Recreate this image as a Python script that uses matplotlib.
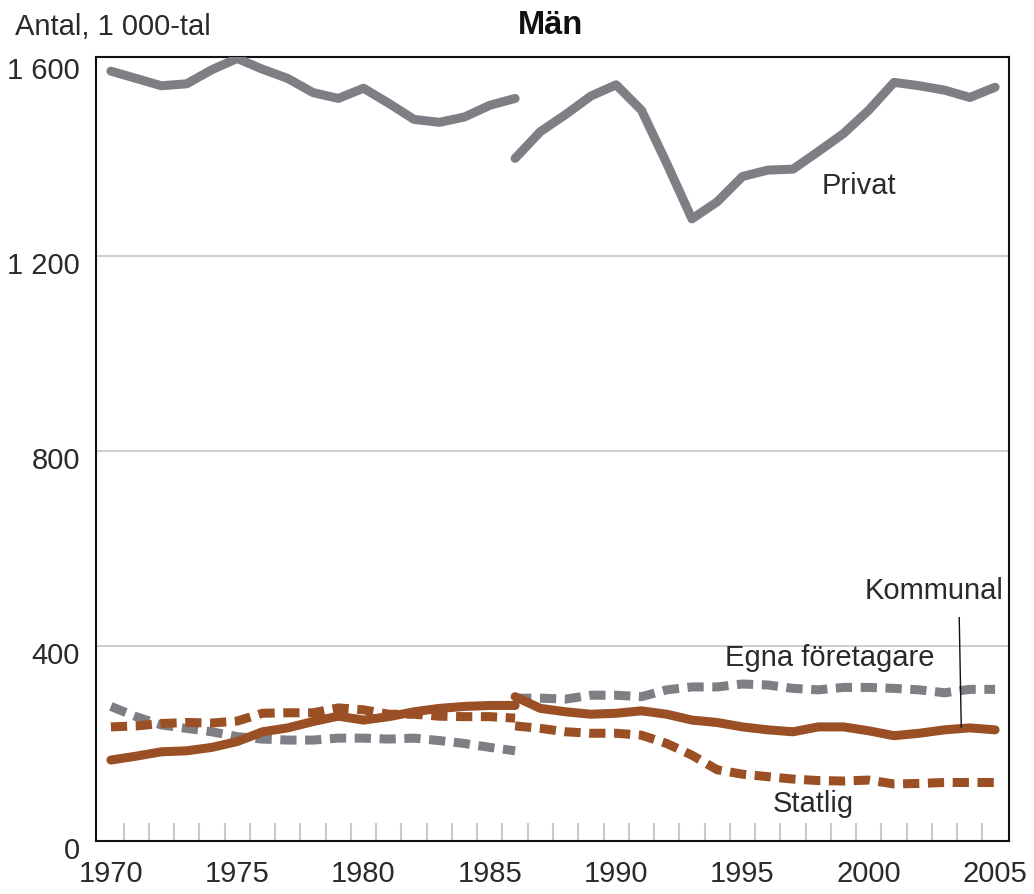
import matplotlib
matplotlib.use("Agg")
import matplotlib.pyplot as plt
import matplotlib.transforms as mtransforms
import numpy as np

plt.rcParams['font.family'] = ['Liberation Sans', 'DejaVu Sans']

years_a = list(range(1970, 1987))
years_b = list(range(1986, 2006))

privat_a = [1579, 1564, 1549, 1553, 1582, 1605, 1583, 1564, 1535, 1523, 1544,
            1513, 1480, 1474, 1485, 1509, 1523]
privat_b = [1400, 1455, 1490, 1528, 1551, 1499, 1390, 1276, 1311, 1363, 1376,
            1378, 1414, 1451, 1499, 1556, 1549, 1540, 1525, 1546]

egna_a = [276, 255, 238, 231, 224, 214, 209, 207, 207, 211, 211, 209, 211, 206,
          200, 192, 185]
egna_b = [293, 293, 291, 299, 299, 296, 310, 316, 316, 322, 320, 313, 310, 315,
          315, 313, 310, 304, 311, 311]

kommunal_a = [166, 174, 183, 185, 192, 204, 224, 232, 245, 256, 248, 255, 265,
              272, 276, 278, 278]
kommunal_b = [296, 272, 265, 260, 262, 267, 260, 248, 243, 234, 228, 224, 234,
              234, 226, 216, 221, 228, 232, 228]

statlig_a = [234, 236, 241, 243, 242, 246, 262, 263, 263, 273, 269, 260, 260,
             256, 255, 255, 252]
statlig_b = [236, 231, 224, 221, 221, 217, 200, 176, 146, 137, 132, 127, 124,
             123, 125, 117, 118, 120, 120, 120]

year_ticks = [1970, 1975, 1980, 1985, 1990, 1995, 2000, 2005]
y_ticks = [0, 400, 800, 1200, 1600]
y_ticklabels = ['0', '400', '800', '1 200', '1 600']

GRAY = '#7e7f84'
BROWN = '#9a4f24'
TXT = '#2a2a2a'
FS = 21

fig = plt.figure(figsize=(10.34, 8.95), dpi=100)
ax = fig.add_axes([96/1034, 1 - 842/895, (1009-96)/1034, (842-58)/895])

lw = 6.5
dash = (1.8, 0.95)
ax.plot(years_a, privat_a, color=GRAY, lw=lw, solid_capstyle='round', solid_joinstyle='round', zorder=3)
ax.plot(years_b, privat_b, color=GRAY, lw=lw, solid_capstyle='round', solid_joinstyle='round', zorder=3)
for ys, xs in ((egna_a, years_a), (egna_b, years_b)):
    ax.plot(xs, ys, color=GRAY, lw=lw, linestyle=(0, dash), dash_capstyle='butt', zorder=3)
for ys, xs in ((statlig_a, years_a), (statlig_b, years_b)):
    ax.plot(xs, ys, color=BROWN, lw=lw, linestyle=(0, dash), dash_capstyle='butt', zorder=4)
ax.plot(years_a, kommunal_a, color=BROWN, lw=lw, solid_capstyle='round', solid_joinstyle='round', zorder=5)
ax.plot(years_b, kommunal_b, color=BROWN, lw=lw, solid_capstyle='round', solid_joinstyle='round', zorder=5)

ax.set_xlim(1969.41, 2005.55)
ax.set_ylim(0, 1608)

for v in y_ticks[1:4]:
    ax.axhline(v, color='#c9c9c9', lw=1.3, zorder=1)

ax.set_yticks(y_ticks)
ax.set_yticklabels(y_ticklabels)
ax.set_xticks(year_ticks)
ax.set_xticklabels([str(y) for y in year_ticks])
ax.set_xticks(np.arange(1970.5, 2005, 1.0), minor=True)
ax.tick_params(axis='y', length=0, pad=11.5, labelsize=FS, labelcolor=TXT)
ax.tick_params(axis='x', which='major', length=0, pad=13, labelsize=FS, labelcolor=TXT)
ax.tick_params(axis='x', which='minor', direction='in', length=13, width=1.5, color='#c9c9c9')

off = mtransforms.ScaledTranslation(0, -6/100, fig.dpi_scale_trans)
for lab in ax.get_yticklabels():
    lab.set_transform(lab.get_transform() + off)

for s in ax.spines.values():
    s.set_color('#111111')
    s.set_linewidth(1.5)

ax.text(1998.15, 1346, 'Privat', fontsize=FS, color=TXT, va='center', ha='left')
ax.text(1994.3, 378, 'Egna företagare', fontsize=FS, color=TXT, va='center', ha='left')
ax.text(2005.35, 515, 'Kommunal', fontsize=FS, color=TXT, va='center', ha='right')
ax.text(1996.2, 78, 'Statlig', fontsize=FS, color=TXT, va='center', ha='left')
ax.plot([2003.58, 2003.66], [458, 234], color='#111111', lw=1.0, zorder=6)

fig.text(551/1034, 1 - 26/895, 'Män', fontsize=23.5, fontweight='bold', color='#111111', ha='center', va='center')
fig.text(15/1034, 1 - 27/895, 'Antal, 1 000-tal', fontsize=FS, color=TXT, ha='left', va='center')

fig.savefig('out.png', dpi=100)
